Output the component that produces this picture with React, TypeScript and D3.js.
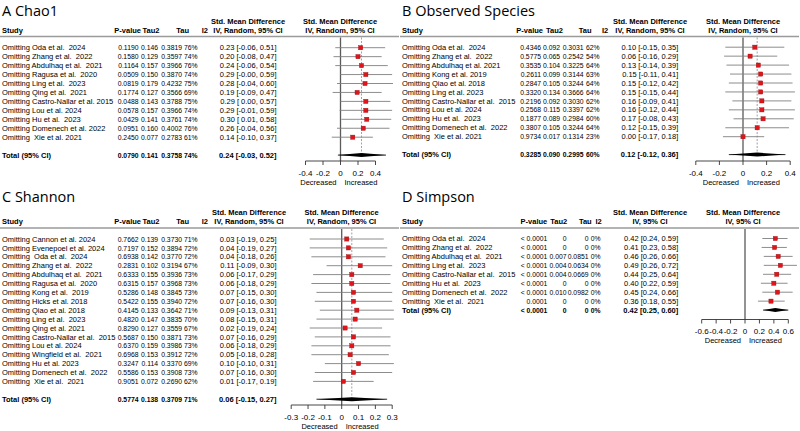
import * as d3 from "d3";

// ---- A: Chao1 ----
const chaoStudies = [
  "Omitting Oda et al.  2024",
  "Omitting Zhang et al.  2022",
  "Omitting Abdulhaq et al.  2021",
  "Omitting Ragusa et al.  2020",
  "Omitting Ling et al.  2023",
  "Omitting Qing et al.  2021",
  "Omitting Castro-Nallar et al. 2015",
  "Omitting Lou et al. 2024",
  "Omitting Hu et al.  2023",
  "Omitting Domenech et al. 2022",
  "Omitting  Xie et al. 2021",
];
const chaoP = ["0.1190", "0.1580", "0.1164", "0.0509", "0.0819", "0.1774", "0.0488", "0.0578", "0.0429", "0.0951", "0.2450"];
const chaoTau2 = ["0.146", "0.129", "0.157", "0.150", "0.179", "0.127", "0.143", "0.157", "0.141", "0.160", "0.077"];
const chaoTau = ["0.3819", "0.3597", "0.3966", "0.3870", "0.4232", "0.3566", "0.3788", "0.3966", "0.3761", "0.4002", "0.2783"];
const chaoI2 = ["76%", "74%", "76%", "74%", "75%", "69%", "75%", "74%", "74%", "76%", "61%"];
const chaoSmd = [0.23, 0.2, 0.24, 0.29, 0.28, 0.19, 0.29, 0.29, 0.3, 0.26, 0.14];
const chaoLo = [-0.06, -0.08, -0.06, -0.004, -0.04, -0.09, 0.0, -0.01, 0.01, -0.04, -0.1];
const chaoHi = [0.51, 0.47, 0.54, 0.59, 0.6, 0.47, 0.57, 0.59, 0.58, 0.56, 0.37];
const chaoTotal = ["0.0790", "0.141", "0.3758", "74%"];
const chaoTotalCI = [0.24, -0.03, 0.52];
const chaoTicks = [-0.4, -0.2, 0, 0.2, 0.4];

// ---- B: Observed Species ----
const obsStudies = [
  "Omitting Oda et al.  2024",
  "Omitting Zhang et al.  2022",
  "Omitting Abdulhaq et al. 2021",
  "Omitting Kong et al. 2019",
  "Omitting Qiao et al. 2018",
  "Omitting Ling et al. 2023",
  "Omitting Castro-Nallar et al.  2015",
  "Omitting Lou et al. 2024",
  "Omitting Hu et al.  2023",
  "Omitting Domenech et al.  2022",
  "Omitting  Xie et al. 2021",
];
const obsP = ["0.4346", "0.5775", "0.3535", "0.2611", "0.2847", "0.3320", "0.2196", "0.2568", "0.1877", "0.3807", "0.9734"];
const obsTau2 = ["0.092", "0.065", "0.104", "0.099", "0.105", "0.134", "0.092", "0.115", "0.089", "0.105", "0.017"];
const obsTau = ["0.3031", "0.2542", "0.3225", "0.3144", "0.3244", "0.3666", "0.3030", "0.3397", "0.2984", "0.3244", "0.1314"];
const obsI2 = ["62%", "54%", "64%", "63%", "64%", "64%", "62%", "62%", "60%", "64%", "23%"];
const obsSmd = [0.1, 0.06, 0.13, 0.15, 0.15, 0.15, 0.16, 0.16, 0.17, 0.12, 0.0];
const obsLo = [-0.15, -0.16, -0.14, -0.11, -0.12, -0.15, -0.09, -0.12, -0.08, -0.15, -0.17];
const obsHi = [0.35, 0.29, 0.39, 0.41, 0.42, 0.44, 0.41, 0.44, 0.43, 0.39, 0.18];
const obsTotal = ["0.3285", "0.090", "0.2995", "60%"];
const obsTotalCI = [0.12, -0.12, 0.36];
const obsTicks = [-0.4, -0.2, 0, 0.2, 0.4];

// ---- C: Shannon ----
const shanStudies = [
  "Omitting Cannon et al. 2024",
  "Omitting Evenepoel et al. 2024",
  "Omitting  Oda et al.  2024",
  "Omitting Zhang et al.  2022",
  "Omitting Abdulhaq et al.  2021",
  "Omitting Ragusa et al.  2020",
  "Omitting Kong et al.  2019",
  "Omitting Hicks et al. 2018",
  "Omitting Qiao et al. 2018",
  "Omitting Ling et al.  2023",
  "Omitting Qing et al. 2021",
  "Omitting Castro-Nallar et al.  2015",
  "Omitting Lou et al. 2024",
  "Omitting Wingfield et al.  2021",
  "Omitting Hu et al. 2023",
  "Omitting Domenech et al.  2022",
  "Omitting  Xie et al.  2021",
];
const shanP = ["0.7662", "0.7197", "0.6938", "0.2831", "0.6333", "0.6315", "0.5286", "0.5422", "0.4145", "0.4820", "0.8290", "0.5687", "0.6370", "0.6968", "0.3247", "0.5586", "0.9051"];
const shanTau2 = ["0.139", "0.152", "0.142", "0.102", "0.155", "0.157", "0.148", "0.155", "0.133", "0.147", "0.127", "0.150", "0.159", "0.153", "0.114", "0.153", "0.072"];
const shanTau = ["0.3730", "0.3894", "0.3770", "0.3194", "0.3936", "0.3968", "0.3845", "0.3940", "0.3642", "0.3835", "0.3559", "0.3871", "0.3986", "0.3912", "0.3370", "0.3908", "0.2690"];
const shanI2 = ["71%", "72%", "72%", "67%", "73%", "73%", "73%", "72%", "71%", "70%", "67%", "73%", "73%", "72%", "69%", "73%", "62%"];
const shanSmd = [0.03, 0.04, 0.04, 0.11, 0.06, 0.06, 0.07, 0.07, 0.09, 0.08, 0.02, 0.07, 0.06, 0.05, 0.1, 0.07, 0.01];
const shanLo = [-0.19, -0.19, -0.18, -0.09, -0.17, -0.18, -0.15, -0.16, -0.13, -0.15, -0.19, -0.16, -0.18, -0.18, -0.1, -0.16, -0.17];
const shanHi = [0.25, 0.27, 0.26, 0.3, 0.29, 0.29, 0.3, 0.3, 0.31, 0.31, 0.24, 0.29, 0.29, 0.28, 0.31, 0.3, 0.19];
const shanTotal = ["0.5774", "0.138", "0.3709", "71%"];
const shanTotalCI = [0.06, -0.15, 0.27];
const shanTicks = [-0.3, -0.2, -0.1, 0, 0.1, 0.2, 0.3];

// ---- D: Simpson ----
const simpStudies = [
  "Omitting Oda et al.  2024",
  "Omitting Zhang et al.  2022",
  "Omitting Abdulhaq et al.  2021",
  "Omitting Ling et al.  2023",
  "Omitting Castro-Nallar et al.  2015",
  "Omitting Hu et al.  2023",
  "Omitting Domenech et al.  2022",
  "Omitting  Xie et al.  2021",
];
const simpP = ["< 0.0001", "< 0.0001", "< 0.0001", "< 0.0001", "< 0.0001", "< 0.0001", "< 0.0001", "0.0001"];
const simpTau2 = ["0", "0", "0.007", "0.004", "0.004", "0", "0.010", "0"];
const simpTau = ["0", "0", "0.0851", "0.0634", "0.0669", "0", "0.0982", "0"];
const simpI2 = ["0%", "0%", "0%", "0%", "0%", "0%", "0%", "0%"];
const simpSmd = [0.42, 0.41, 0.46, 0.49, 0.44, 0.4, 0.45, 0.36];
const simpLo = [0.24, 0.23, 0.26, 0.26, 0.25, 0.22, 0.24, 0.18];
const simpHi = [0.59, 0.58, 0.66, 0.72, 0.64, 0.59, 0.66, 0.55];
const simpTotal = ["< 0.0001", "0", "0", "0%"];
const simpTotalCI = [0.42, 0.25, 0.6];
const simpTicks = [-0.6, -0.4, -0.2, 0, 0.2, 0.4, 0.6];

const FONT = "'Liberation Sans', Arial, sans-serif";

interface PanelProps {
  letter: string;
  title: string;
  ciHeader: string;
  studies: string[];
  pvals: string[];
  tau2: string[];
  tau: string[];
  i2: string[];
  smd: number[];
  lo: number[];
  hi: number[];
  total: string[];
  totalCI: number[];
  ticks: number[];
  gap: boolean;
  dashed: boolean;
  ox: number;
  titleY: number;
  hdrY: number;
  ruleY: number;
  row0: number;
  step: number;
  axisY: number;
  xRange: [number, number];
  cols: number[]; // p, tau2, tau, i2, ci right edges
  hcols: number[]; // header right edges + centres
}

const fmtCI = (m: number, l: number, h: number, pad: boolean) =>
  `${m.toFixed(2)} [${pad && l >= 0 ? " " : ""}${l.toFixed(2)}, ${h.toFixed(2)}]`;

const Panel = (p: PanelProps) => {
  const dom = [p.ticks[0], p.ticks[p.ticks.length - 1]];
  const x = d3.scaleLinear().domain(dom).range(p.xRange);
  const y = d3.scaleLinear().domain([0, 1]).range([p.row0, p.row0 + p.step]);
  const n = p.studies.length;
  const totalIdx = p.gap ? n + 1 : n;
  const pad = p.lo.some((v) => v < 0);
  const base = 2.6;
  const numFs = 6.8;
  const [cp, ct2, ct, ci2, cci] = p.cols;
  const [hp, ht2, ht, hi2, hsmd, hplot] = p.hcols;
  const x0 = x(0);
  const ty = y(totalIdx);
  const [tm, tl, th] = p.totalCI;

  const rowText = (i: number, vals: string[], ci: string, bold: boolean, label: string) => (
    <g key={i} fontWeight={bold ? "bold" : "normal"}>
      <text x={p.ox + 2} y={y(i) + base} style={{ whiteSpace: "pre" }}>
        {label}
      </text>
      <g fontSize={numFs}>
        <text x={p.ox + cp} y={y(i) + base} textAnchor="end" style={{ whiteSpace: "pre" }}>
          {vals[0]}
        </text>
        <text x={p.ox + ct2} y={y(i) + base} textAnchor="end">{vals[1]}</text>
        <text x={p.ox + ct} y={y(i) + base} textAnchor="end">{vals[2]}</text>
        <text x={p.ox + ci2} y={y(i) + base} textAnchor="end">{vals[3]}</text>
      </g>
      <text x={p.ox + cci} y={y(i) + base} textAnchor="end" style={{ whiteSpace: "pre" }}>
        {ci}
      </text>
    </g>
  );

  return (
    <g fontFamily={FONT} fontSize={7.5} fill="#000">
      <text x={p.ox + 2} y={p.titleY} fontFamily="'Open Sans', sans-serif" fontSize={14.5}>
        {p.letter} {p.title}
      </text>
      {/* column headers */}
      <g fontWeight="bold">
        <text x={p.ox + 2} y={p.hdrY + 9}>Study</text>
        <text x={p.ox + hp} y={p.hdrY + 9} textAnchor="end">P-value</text>
        <text x={p.ox + ht2} y={p.hdrY + 9} textAnchor="end">Tau2</text>
        <text x={p.ox + ht} y={p.hdrY + 9} textAnchor="end">Tau</text>
        <text x={p.ox + hi2} y={p.hdrY + 9} textAnchor="end">I2</text>
        <text x={p.ox + hsmd} y={p.hdrY} textAnchor="middle">Std. Mean Difference</text>
        <text x={p.ox + hsmd} y={p.hdrY + 9} textAnchor="middle">{p.ciHeader}</text>
        <text x={p.ox + hplot} y={p.hdrY} textAnchor="middle">Std. Mean Difference</text>
        <text x={p.ox + hplot} y={p.hdrY + 9} textAnchor="middle">{p.ciHeader}</text>
      </g>
      <line x1={p.ox} x2={p.ox + 399} y1={p.ruleY} y2={p.ruleY} stroke="#9a9a9a" strokeWidth={1.4} />

      {p.studies.map((s, i) =>
        rowText(i, [p.pvals[i], p.tau2[i], p.tau[i], p.i2[i]], fmtCI(p.smd[i], p.lo[i], p.hi[i], pad), false, s)
      )}
      {rowText(totalIdx, p.total, fmtCI(tm, tl, th, pad), true, "Total (95% CI)")}

      {/* forest */}
      <line x1={x0} x2={x0} y1={p.ruleY + 1} y2={p.axisY} stroke="#5a5a5a" strokeWidth={1.3} />
      {p.dashed && (
        <line x1={x(tm)} x2={x(tm)} y1={p.ruleY + 1} y2={ty} stroke="#8a8a8a" strokeWidth={0.8} strokeDasharray="2,1.5" />
      )}
      {p.studies.map((_, i) => (
        <g key={"m" + i}>
          <line x1={x(p.lo[i])} x2={x(p.hi[i])} y1={y(i)} y2={y(i)} stroke="#808080" strokeWidth={0.9} />
          <rect x={x(p.smd[i]) - 2.1} y={y(i) - 2.1} width={4.2} height={4.2} fill="#e0151b" stroke="#9b0d10" strokeWidth={0.4} />
        </g>
      ))}
      <line x1={x(tl)} x2={x(th)} y1={ty} y2={ty} stroke="#000" strokeWidth={0.8} />
      <path
        d={`M${x(tl)},${ty} L${x(tm)},${ty - 2} L${x(th)},${ty} L${x(tm)},${ty + 2} Z`}
        fill="#000"
      />
      {/* axis */}
      <line x1={x(dom[0])} x2={x(dom[1])} y1={p.axisY} y2={p.axisY} stroke="#333" strokeWidth={0.9} />
      {p.ticks.map((t) => (
        <g key={"t" + t}>
          <line x1={x(t)} x2={x(t)} y1={p.axisY} y2={p.axisY + 4} stroke="#333" strokeWidth={0.9} />
          <text x={x(t)} y={p.axisY + 14.5} textAnchor="middle" fontSize={8}>
            {t === 0 ? "0" : d3.format(".1f")(t).replace("−", "-")}
          </text>
        </g>
      ))}
      <text x={x0 - 4} y={p.axisY + 23.5} textAnchor="end">Decreased</text>
      <text x={x0 + 4} y={p.axisY + 23.5} textAnchor="start">Increased</text>
    </g>
  );
};

const App = () => {
  return (
    <svg width={800} height={431} style={{ position: "absolute", left: 0, top: 0, background: "#fff" }}>
      <Panel
        letter="A" title="Chao1" ciHeader="IV, Random, 95% CI"
        studies={chaoStudies} pvals={chaoP} tau2={chaoTau2} tau={chaoTau} i2={chaoI2}
        smd={chaoSmd} lo={chaoLo} hi={chaoHi} total={chaoTotal} totalCI={chaoTotalCI} ticks={chaoTicks}
        gap dashed ox={0} titleY={15.5} hdrY={24} ruleY={36.5} row0={47.7} step={8.95} axisY={161}
        xRange={[305.5, 375.5]}
        cols={[138.5, 158, 182, 197.5, 276.5]}
        hcols={[141, 159.5, 189, 208, 248, 340]}
      />
      <Panel
        letter="B" title="Observed Species" ciHeader="IV, Random, 95% CI"
        studies={obsStudies} pvals={obsP} tau2={obsTau2} tau={obsTau} i2={obsI2}
        smd={obsSmd} lo={obsLo} hi={obsHi} total={obsTotal} totalCI={obsTotalCI} ticks={obsTicks}
        gap dashed ox={400} titleY={15.5} hdrY={24} ruleY={36.5} row0={47.2} step={8.95} axisY={161}
        xRange={[695.8, 790.2]}
        cols={[141, 160, 183.5, 199.5, 278.3]}
        hcols={[143, 163, 191.5, 208.3, 250, 343]}
      />
      <Panel
        letter="C" title="Shannon" ciHeader="IV, Random, 95% CI"
        studies={shanStudies} pvals={shanP} tau2={shanTau2} tau={shanTau} i2={shanI2}
        smd={shanSmd} lo={shanLo} hi={shanHi} total={shanTotal} totalCI={shanTotalCI} ticks={shanTicks}
        gap dashed ox={0} titleY={202} hdrY={215} ruleY={228} row0={239} step={8.9} axisY={405}
        xRange={[291.2, 392.2]}
        cols={[138.5, 158, 182, 197.5, 276.5]}
        hcols={[141, 159.5, 189, 208, 249, 341.5]}
      />
      <Panel
        letter="D" title="Simpson" ciHeader="IV, 95% CI"
        studies={simpStudies} pvals={simpP} tau2={simpTau2} tau={simpTau} i2={simpI2}
        smd={simpSmd} lo={simpLo} hi={simpHi} total={simpTotal} totalCI={simpTotalCI} ticks={simpTicks}
        gap={false} dashed={false} ox={400} titleY={202} hdrY={215} ruleY={228} row0={238.5} step={8.95} axisY={319.5}
        xRange={[701.7, 788.3]}
        cols={[147.3, 166.5, 188.5, 200.5, 278.3]}
        hcols={[147.3, 167.3, 191.7, 201.7, 250, 343]}
      />
    </svg>
  );
};

export default App;
